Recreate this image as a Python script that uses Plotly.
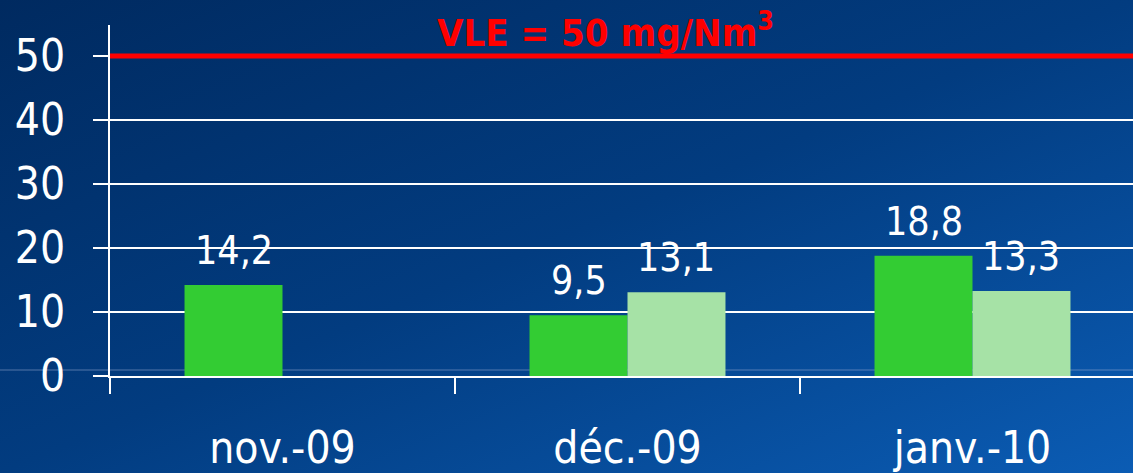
import base64
import plotly.graph_objects as go

# ---- data ----
categories = ["nov.-09", "déc.-09", "janv.-10"]
series_a = [14.2, 9.5, 18.8]
series_b = [None, 13.1, 13.3]
vle_value = 50
vle_label = "VLE = 50 mg/Nm<sup>3</sup>"
y_ticks = [0, 10, 20, 30, 40, 50]

FONT = "DejaVu Sans Condensed, Liberation Sans, Arial, sans-serif"
GREEN = "#33cc33"
LIGHT = "#a6e2a6"
BARGAP = 0.432

W, H = 1133, 473
ML, MR, MT, MB = 110, 0, 25, 97
pw, ph = W - ML - MR, H - MT - MB

def fmt(v):
    return f"{v:.1f}".replace(".", ",")

fig = go.Figure()
fig.add_trace(go.Bar(x=categories, y=series_a, marker=dict(color=GREEN, line=dict(width=0)),
                     name="a", showlegend=False, hoverinfo="skip"))
fig.add_trace(go.Bar(x=categories, y=series_b, marker=dict(color=LIGHT, line=dict(width=0)),
                     name="b", showlegend=False, hoverinfo="skip"))

bar_w = (1 - BARGAP) / 2
annotations = []
for i, (a, b) in enumerate(zip(series_a, series_b)):
    for v, off in ((a, -bar_w / 2), (b, bar_w / 2)):
        if v is None:
            continue
        annotations.append(dict(x=i + off, y=v, xref="x", yref="y", text=fmt(v),
                                showarrow=False, yanchor="bottom", yshift=10,
                                font=dict(family=FONT, size=39, color="white")))

annotations.append(dict(x=(605 - ML) / pw, y=vle_value, xref="paper", yref="y",
                        text=vle_label, showarrow=False, yanchor="bottom", yshift=-1,
                        font=dict(family=FONT, size=38, color="#ff0000", weight="bold")))

svg = ('<svg xmlns="http://www.w3.org/2000/svg" width="100" height="100" viewBox="0 0 100 100" '
       'preserveAspectRatio="none"><defs><linearGradient id="g" x1="0" y1="0" x2="1" y2="1">'
       '<stop offset="0" stop-color="#002a60"/><stop offset="0.5" stop-color="#023c80"/>'
       '<stop offset="1" stop-color="#0b5cb4"/></linearGradient></defs>'
       '<rect width="100" height="100" fill="url(#g)"/></svg>')
src = "data:image/svg+xml;base64," + base64.b64encode(svg.encode()).decode()

fig.update_layout(
    width=W, height=H,
    margin=dict(l=ML, r=MR, t=MT, b=MB, pad=0),
    paper_bgcolor="#023c80", plot_bgcolor="rgba(0,0,0,0)",
    barmode="group", bargap=BARGAP, bargroupgap=0,
    font=dict(family=FONT, color="white"),
    images=[dict(source=src, xref="paper", yref="paper",
                 x=-ML / pw, y=1 + MT / ph, sizex=W / pw, sizey=H / ph,
                 xanchor="left", yanchor="top", sizing="stretch", layer="below")],
    annotations=annotations,
    shapes=[
        dict(type="line", xref="paper", yref="paper", x0=-ML / pw, x1=1,
             y0=6 / ph, y1=6 / ph, line=dict(color="rgba(150,170,210,0.55)", width=1), layer="below"),
        dict(type="line", xref="paper", yref="y", x0=0, x1=1, y0=vle_value, y1=vle_value,
             line=dict(color="#ff0000", width=5), layer="above"),
    ],
    xaxis=dict(type="category", range=[-0.5, -0.5 + pw / 345], tickson="boundaries",
               ticks="outside", ticklen=16, tickwidth=2, tickcolor="white",
               showline=True, linecolor="white", linewidth=2, showgrid=False,
               tickfont=dict(family=FONT, size=44, color="white"), ticklabelstandoff=32,
               fixedrange=True),
    yaxis=dict(range=[0, ph / 6.4], tickvals=y_ticks, ticks="outside", ticklen=15,
               tickwidth=2, tickcolor="white", showline=True, linecolor="white", linewidth=2,
               showgrid=True, gridcolor="white", gridwidth=2, zeroline=False,
               tickfont=dict(family=FONT, size=44, color="white"), ticklabelstandoff=19,
               fixedrange=True),
)

fig.write_html("out.html", config=dict(displayModeBar=False),
               post_script="document.body.style.margin='0';document.body.style.overflow='hidden';")
